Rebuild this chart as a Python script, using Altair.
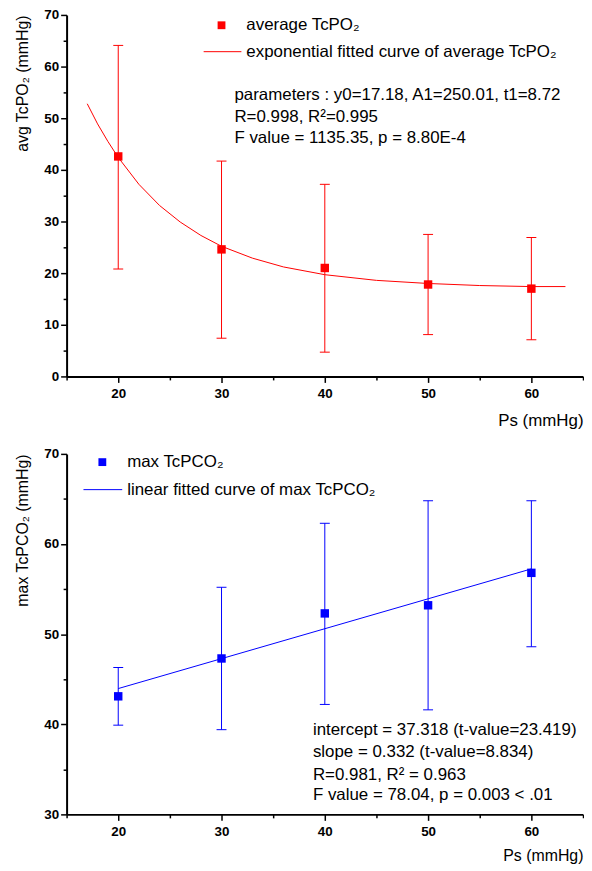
import altair as alt
import pandas as pd

FONT = "Liberation Sans"

# ---------------- data ----------------
ps = [20, 30, 40, 50, 60]

avg_tcpo2 = [42.6, 24.6, 21.0, 17.8, 17.0]
avg_tcpo2_hi = [64.1, 41.7, 37.2, 27.5, 26.9]
avg_tcpo2_lo = [20.8, 7.4, 4.7, 8.1, 7.1]

exp_fit_x = [17, 18, 19, 20, 22, 24, 26, 28, 30, 33, 36, 40, 45, 50, 55, 60, 63.3]
exp_fit_y = [52.8, 48.9, 45.5, 42.4, 37.2, 33.1, 29.9, 27.3, 25.2, 22.9, 21.2,
             19.7, 18.6, 18.0, 17.6, 17.4, 17.4]

max_tcpco2 = [43.1, 47.3, 52.3, 53.2, 56.8]
max_tcpco2_hi = [46.3, 55.2, 62.3, 64.8, 64.8]
max_tcpco2_lo = [39.9, 39.4, 42.2, 41.6, 48.6]

lin_fit_x = [20, 60]
lin_fit_y = [43.96, 57.24]

x_major = [20, 30, 40, 50, 60]
x_minor = [15, 25, 35, 45, 55, 65]
top_y_major = [0, 10, 20, 30, 40, 50, 60, 70]
top_y_minor = [5, 15, 25, 35, 45, 55, 65]
bot_y_major = [30, 40, 50, 60, 70]
bot_y_minor = [35, 45, 55, 65]

top_legend = ["average TcPO₂", "exponential fitted curve of average TcPO₂"]
top_stats = ["parameters : y0=17.18, A1=250.01, t1=8.72",
             "R=0.998, R²=0.995",
             "F value = 1135.35, p = 8.80E-4"]
bot_legend = ["max TcPCO₂", "linear fitted curve of max TcPCO₂"]
bot_stats = ["intercept = 37.318 (t-value=23.419)",
             "slope = 0.332 (t-value=8.834)",
             "R=0.981, R² = 0.963",
             "F value = 78.04, p = 0.003 < .01"]


def panel(color, mean, hi, lo, fx, fy, ydom, ymaj, ymin, ytitle,
          legend, stats, lay, w, h):
    pts = pd.DataFrame({"ps": ps, "mean": mean, "hi": hi, "lo": lo})
    fit = pd.DataFrame({"x": fx, "y": fy})
    xs = alt.Scale(domain=[15, 65], nice=False, zero=False)
    ys = alt.Scale(domain=ydom, nice=False, zero=False)

    ax_x_major = alt.Axis(values=x_major, title="Ps (mmHg)", titleAnchor="end",
                          titleFontSize=lay["xtfs"], titlePadding=lay["xtp"], tickSize=6,
                          labelPadding=4, orient="bottom", format="d")
    ax_x_minor = alt.Axis(values=x_minor, labels=False, title=None, tickSize=3.5,
                          domain=False, orient="bottom")
    ax_y_major = alt.Axis(values=ymaj, title=ytitle, titleAnchor="end",
                          titleFontSize=16, titlePadding=lay["ytp"], tickSize=6,
                          labelPadding=2, orient="left", format="d")
    ax_y_minor = alt.Axis(values=ymin, labels=False, title=None, tickSize=3.5,
                          domain=False, orient="left")

    fit_line = alt.Chart(fit).mark_line(color=color, strokeWidth=1).encode(
        x=alt.X("x:Q", scale=xs, axis=ax_x_major),
        y=alt.Y("y:Q", scale=ys, axis=ax_y_major),
    )
    err = alt.Chart(pts).mark_rule(color=color, strokeWidth=1).encode(
        x=alt.X("ps:Q", scale=xs, axis=ax_x_minor),
        y=alt.Y("lo:Q", scale=ys, axis=ax_y_minor),
        y2="hi:Q",
    )
    cap_hi = alt.Chart(pts).mark_tick(color=color, orient="horizontal", size=10,
                                      thickness=1, opacity=1).encode(
        x=alt.X("ps:Q", scale=xs, axis=None),
        y=alt.Y("hi:Q", scale=ys, axis=None),
    )
    cap_lo = alt.Chart(pts).mark_tick(color=color, orient="horizontal", size=10,
                                      thickness=1, opacity=1).encode(
        x=alt.X("ps:Q", scale=xs, axis=None),
        y=alt.Y("lo:Q", scale=ys, axis=None),
    )
    marks = alt.Chart(pts).mark_square(color=color, size=72, opacity=1,
                                       filled=True).encode(
        x=alt.X("ps:Q", scale=xs, axis=None),
        y=alt.Y("mean:Q", scale=ys, axis=None),
    )

    one = pd.DataFrame({"k": [0]})
    leg_sq = alt.Chart(one).mark_square(color=color, size=62, opacity=1,
                                        filled=True).encode(
        x=alt.value(lay["sq"][0]), y=alt.value(lay["sq"][1]))
    leg_ln = alt.Chart(one).mark_rule(color=color, strokeWidth=1).encode(
        x=alt.value(lay["ln"][0]), x2=alt.value(lay["ln"][1]), y=alt.value(lay["ln"][2]))

    texts = []
    for i, t in enumerate(legend):
        texts.append(
            alt.Chart(pd.DataFrame({"t": [t]})).mark_text(
                align="left", baseline="middle", font=FONT, fontSize=17,
                color="black").encode(
                x=alt.value(lay["legx"]), y=alt.value(lay["legy"][i]), text="t:N"))
    for i, t in enumerate(stats):
        texts.append(
            alt.Chart(pd.DataFrame({"t": [t]})).mark_text(
                align="left", baseline="middle", font=FONT, fontSize=17,
                color="black").encode(
                x=alt.value(lay["stx"]), y=alt.value(lay["sty"][i]), text="t:N"))

    return alt.layer(fit_line, err, cap_hi, cap_lo, marks, leg_sq, leg_ln,
                     *texts).resolve_axis(x="independent", y="independent").properties(
        width=w, height=h)


top = panel("#ff0000", avg_tcpo2, avg_tcpo2_hi, avg_tcpo2_lo, exp_fit_x, exp_fit_y,
            [0, 70], top_y_major, top_y_minor, "avg TcPO₂ (mmHg)",
            top_legend, top_stats,
            dict(xtfs=17, xtp=13, ytp=13, sq=(156, 10.4), ln=(138, 176, 37),
                 legx=181, legy=[10.4, 37], stx=169, sty=[81, 102.7, 124.4]),
            520, 364)

bottom = panel("#0000ff", max_tcpco2, max_tcpco2_hi, max_tcpco2_lo, lin_fit_x, lin_fit_y,
               [30, 70], bot_y_major, bot_y_minor, "max TcPCO₂ (mmHg)",
               bot_legend, bot_stats,
               dict(xtfs=16, xtp=10, ytp=13, sq=(36, 8.3), ln=(17, 56, 36),
                    legx=61, legy=[8.3, 36], stx=248, sty=[278, 300, 323, 344]),
               520, 363)

chart = alt.vconcat(top, bottom, spacing=18).properties(
    padding={"left": 6, "top": -3, "right": 0, "bottom": 0},
    background="white",
).configure_view(stroke=None).configure_axis(
    grid=False,
    domainColor="black", domainWidth=2,
    tickColor="black", tickWidth=1.5,
    labelFont=FONT, labelFontSize=13.5, labelFontWeight="bold", labelColor="black",
    titleFont=FONT, titleFontWeight="normal", titleColor="black",
)

chart.save("out.html", embed_options={"renderer": "svg", "actions": False})
